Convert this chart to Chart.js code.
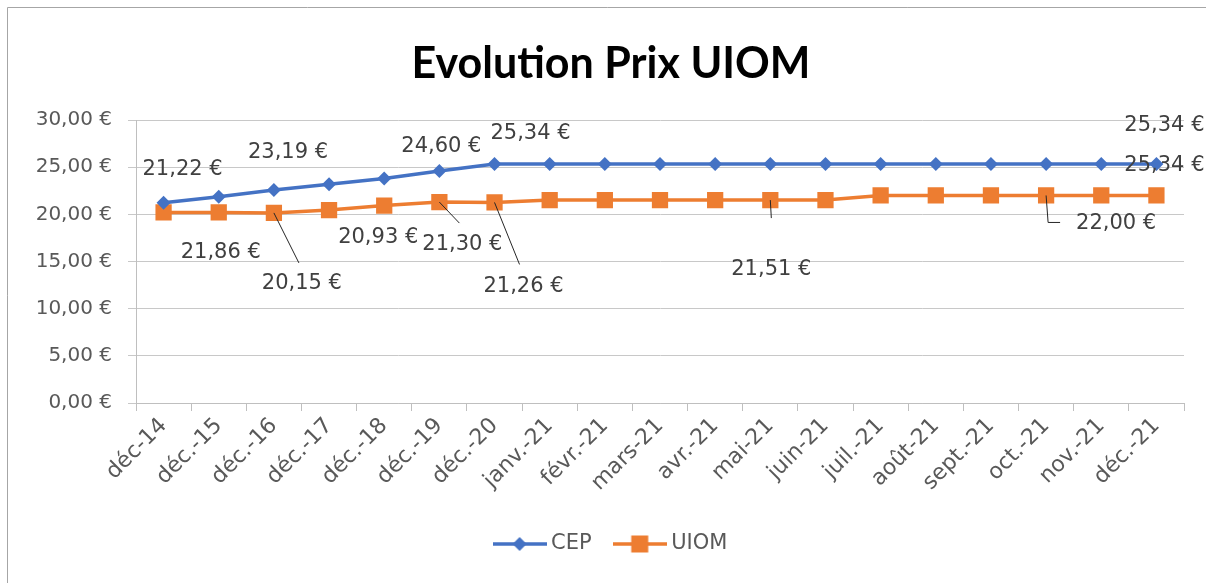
<!DOCTYPE html>
<html lang="fr">
<head>
<meta charset="utf-8">
<title>Evolution Prix UIOM</title>
<script src="https://cdn.jsdelivr.net/npm/chart.js@4/dist/chart.umd.min.js"></script>
<style>
  html, body { margin: 0; padding: 0; background: #fff; }
  #wrap { width: 1206px; height: 583px; }
</style>
</head>
<body>
<div id="wrap"><canvas id="prixChart" width="1206" height="583"></canvas></div>
<script>
// Chart data
const months = ['déc-14', 'déc.-15', 'déc.-16', 'déc.-17', 'déc.-18', 'déc.-19', 'déc.-20',
    'janv.-21', 'févr.-21', 'mars-21', 'avr.-21', 'mai-21', 'juin-21', 'juil.-21',
    'août-21', 'sept.-21', 'oct.-21', 'nov.-21', 'déc.-21'];
const cepPrices = [21.22, 21.86, 22.57, 23.19, 23.80, 24.60, 25.34,
    25.34, 25.34, 25.34, 25.34, 25.34, 25.34, 25.34, 25.34, 25.34, 25.34, 25.34, 25.34];
const uiomPrices = [20.20, 20.20, 20.15, 20.45, 20.93, 21.30, 21.26,
    21.51, 21.51, 21.51, 21.51, 21.51, 21.51, 22.00, 22.00, 22.00, 22.00, 22.00, 22.00];
const yMin = 0;
const yMax = 30;
const yStep = 5;

// Which data labels are shown, and where they were dragged to (pixel offsets from the point)
const labelPlacements = [
    { series: 0, index: 0, dx: 19, dy: -33 },
    { series: 0, index: 1, dx: 2, dy: 56 },
    { series: 0, index: 3, dx: -41, dy: -32 },
    { series: 0, index: 5, dx: 2, dy: -24 },
    { series: 0, index: 6, dx: 36, dy: -30 },
    { series: 0, index: 18, dx: 8, dy: -38 },
    { series: 0, index: 18, dx: 8, dy: 2 },
    { series: 1, index: 2, dx: 28, dy: 71, leader: [[25, 50]] },
    { series: 1, index: 4, dx: -6, dy: 32 },
    { series: 1, index: 5, dx: 23, dy: 42, leader: [[20, 21]] },
    { series: 1, index: 6, dx: 29, dy: 84, leader: [[25, 62]] },
    { series: 1, index: 11, dx: 1, dy: 69, leader: [[1, 18]] },
    { series: 1, index: 16, dx: 70, dy: 28, leader: [[2, 27], [14, 27]] }
];

const BLUE = '#4472C4';
const ORANGE = '#ED7D31';
const TEXT = '#404040';
const AXIS_TEXT = '#595959';
const GRID = '#c8c8c8';
const FONT = "'DejaVu Sans', sans-serif";

function euro(v) {
    return v.toFixed(2).replace('.', ',') + '\u00a0€';
}

// Legend icon: short line with the marker in the middle, like Excel
function legendIcon(color, shape) {
    const c = document.createElement('canvas');
    c.width = 54;
    c.height = 18;
    const g = c.getContext('2d');
    g.strokeStyle = color;
    g.lineWidth = 3.5;
    g.beginPath();
    g.moveTo(0, 9);
    g.lineTo(54, 9);
    g.stroke();
    g.fillStyle = color;
    g.beginPath();
    if (shape === 'diamond') {
        g.moveTo(27, 2);
        g.lineTo(34, 9);
        g.lineTo(27, 16);
        g.lineTo(20, 9);
        g.closePath();
    } else {
        g.rect(18.5, 0.5, 17, 17);
    }
    g.fill();
    return c;
}
const legendIcons = [legendIcon(BLUE, 'diamond'), legendIcon(ORANGE, 'square')];

// Outer chart border (left and top edges show in the picture)
const chartBorder = {
    id: 'chartBorder',
    beforeDraw(chart) {
        const ctx = chart.ctx;
        ctx.save();
        ctx.fillStyle = '#fff';
        ctx.fillRect(0, 0, chart.width, chart.height);
        ctx.strokeStyle = '#a6a6a6';
        ctx.lineWidth = 1;
        ctx.beginPath();
        ctx.moveTo(7.5, chart.height + 5);
        ctx.lineTo(7.5, 7.5);
        ctx.lineTo(chart.width + 5, 7.5);
        ctx.stroke();
        ctx.restore();
    }
};

// Nudge the legend and title to the right, where Excel put them
const blockShift = {
    id: 'blockShift',
    afterLayout(chart) {
        chart.legend.left += 17;
        chart.legend.right += 17;
        chart.titleBlock.left += 15;
        chart.titleBlock.right += 15;
    }
};

// Data labels with leader lines
const dataLabels = {
    id: 'dataLabels',
    afterDatasetsDraw(chart) {
        const ctx = chart.ctx;
        ctx.save();
        labelPlacements.forEach(p => {
            const pt = chart.getDatasetMeta(p.series).data[p.index];
            const value = chart.data.datasets[p.series].data[p.index];
            if (p.leader) {
                ctx.strokeStyle = '#262626';
                ctx.lineWidth = 1;
                ctx.beginPath();
                ctx.moveTo(pt.x, pt.y);
                p.leader.forEach(([lx, ly]) => ctx.lineTo(pt.x + lx, pt.y + ly));
                ctx.stroke();
            }
            ctx.fillStyle = TEXT;
            ctx.font = '21px ' + FONT;
            ctx.textAlign = 'center';
            ctx.textBaseline = 'middle';
            ctx.fillText(euro(value), pt.x + p.dx, pt.y + p.dy);
        });
        ctx.restore();
    }
};

new Chart(document.getElementById('prixChart'), {
    type: 'line',
    data: {
        labels: months,
        datasets: [{
            label: 'CEP',
            data: cepPrices,
            borderColor: BLUE,
            backgroundColor: BLUE,
            borderWidth: 3.5,
            pointStyle: 'rectRot',
            pointRadius: 7,
            pointBorderWidth: 0,
            tension: 0
        }, {
            label: 'UIOM',
            data: uiomPrices,
            borderColor: ORANGE,
            backgroundColor: ORANGE,
            borderWidth: 3.5,
            pointStyle: 'rect',
            pointRadius: 11.5,
            pointBorderWidth: 0,
            tension: 0
        }]
    },
    options: {
        responsive: false,
        animation: false,
        layout: {
            padding: { left: 8, right: 22, top: 0, bottom: 18.5 }
        },
        plugins: {
            title: {
                display: true,
                text: 'Evolution Prix UIOM',
                color: '#000',
                font: { family: 'Lato', size: 43, weight: 'bold' },
                padding: { top: 38.2, bottom: 30.2 }
            },
            legend: {
                position: 'bottom',
                labels: {
                    usePointStyle: true,
                    pointStyleWidth: 42,
                    padding: 27,
                    color: AXIS_TEXT,
                    font: { family: FONT, size: 21 },
                    generateLabels(chart) {
                        const items = Chart.defaults.plugins.legend.labels.generateLabels(chart);
                        items.forEach((item, i) => { item.pointStyle = legendIcons[i]; });
                        return items;
                    }
                }
            },
            tooltip: { enabled: false }
        },
        scales: {
            x: {
                offset: true,
                afterFit(scale) { scale.height = 103.5; },
                grid: {
                    offset: true,
                    drawOnChartArea: false,
                    drawTicks: true,
                    tickLength: 8,
                    color: '#bfbfbf'
                },
                border: { display: true, color: '#bfbfbf' },
                ticks: {
                    color: AXIS_TEXT,
                    font: { family: FONT, size: 22 },
                    minRotation: 45,
                    maxRotation: 45,
                    padding: 2,
                    autoSkip: false
                }
            },
            y: {
                min: yMin,
                max: yMax,
                afterFit(scale) { scale.width = 128; },
                grid: {
                    color: GRID,
                    tickLength: 8
                },
                border: { display: true, color: '#bfbfbf' },
                ticks: {
                    stepSize: yStep,
                    color: AXIS_TEXT,
                    font: { family: FONT, size: 20 },
                    padding: 16,
                    callback: value => euro(value)
                }
            }
        }
    },
    plugins: [chartBorder, blockShift, dataLabels]
});
</script>
</body>
</html>
